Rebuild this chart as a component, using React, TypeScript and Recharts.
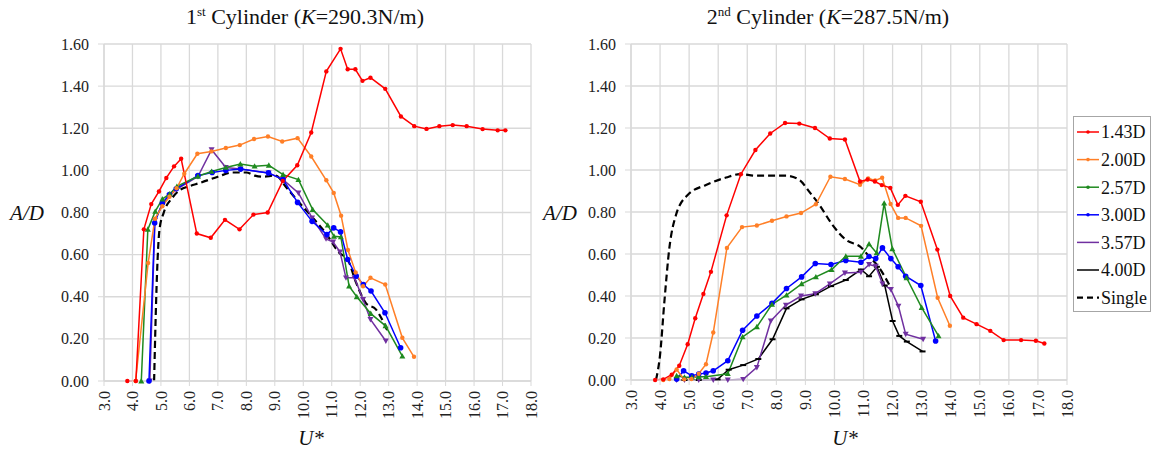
import React from "react";
import { LineChart, Line, XAxis, YAxis, CartesianGrid } from "recharts";

type Pt = [number, number];

// ---- 1st cylinder (K = 290.3 N/m): [U*, A/D] ----
const c1_143: Pt[] = [[3.82,0],[4.12,0],[4.40,0.72],[4.66,0.84],[4.93,0.90],[5.19,0.964],[5.46,1.019],[5.71,1.055],[6.26,0.70],[6.75,0.68],[7.25,0.765],[7.76,0.72],[8.25,0.79],[8.75,0.80],[9.28,0.95],[9.79,1.024],[10.28,1.18],[10.81,1.47],[11.31,1.577],[11.56,1.48],[11.83,1.48],[12.08,1.425],[12.36,1.44],[12.88,1.387],[13.43,1.256],[13.90,1.21],[14.33,1.197],[14.78,1.21],[15.25,1.215],[15.74,1.21],[16.30,1.196],[16.83,1.19],[17.10,1.19]];
const c1_200: Pt[] = [[4.11,0],[4.55,0.56],[4.79,0.77],[5.05,0.83],[5.30,0.875],[5.55,0.915],[5.82,0.984],[6.28,1.079],[6.77,1.09],[7.28,1.106],[7.77,1.12],[8.27,1.149],[8.76,1.161],[9.26,1.137],[9.80,1.153],[10.28,1.066],[10.81,0.953],[11.07,0.893],[11.33,0.785],[11.57,0.622],[11.84,0.515],[12.10,0.45],[12.36,0.49],[12.88,0.458],[13.48,0.205],[13.89,0.115]];
const c1_257: Pt[] = [[4.31,0],[4.54,0.72],[4.80,0.805],[5.05,0.864],[5.31,0.888],[5.56,0.924],[6.30,0.972],[6.78,0.995],[7.28,1.014],[7.79,1.03],[8.29,1.02],[8.79,1.024],[9.29,0.98],[9.83,0.956],[10.33,0.814],[10.86,0.74],[11.08,0.687],[11.32,0.684],[11.61,0.45],[11.88,0.40],[12.37,0.32],[12.89,0.262],[13.48,0.118]];
const c1_300: Pt[] = [[4.58,0],[4.78,0.75],[5.05,0.845],[5.30,0.885],[5.54,0.913],[6.30,0.975],[6.80,0.99],[7.28,1.0],[7.80,1.006],[8.78,0.988],[9.29,0.956],[9.80,0.848],[10.31,0.758],[10.83,0.695],[11.07,0.727],[11.31,0.708],[11.56,0.577],[11.86,0.498],[12.11,0.458],[12.38,0.427],[12.87,0.324],[13.42,0.158]];
const c1_357: Pt[] = [[4.61,0],[4.79,0.763],[5.07,0.845],[5.30,0.88],[5.55,0.91],[6.30,0.971],[6.78,1.098],[7.28,1.014],[7.79,1.006],[8.78,0.988],[9.29,0.956],[9.83,0.893],[10.31,0.774],[10.80,0.675],[11.05,0.66],[11.29,0.613],[11.50,0.49],[11.80,0.49],[12.10,0.387],[12.36,0.292],[12.90,0.19]];
const c1_single: Pt[] = [[4.76,0],[4.86,0.5],[4.95,0.72],[5.1,0.80],[5.4,0.87],[5.65,0.905],[6.0,0.925],[6.36,0.94],[7.0,0.97],[7.53,0.99],[8.0,0.99],[8.3,0.975],[8.58,0.97],[9.02,0.976],[9.4,0.92],[9.87,0.845],[10.34,0.774],[10.8,0.70],[11.27,0.608],[11.56,0.577],[11.86,0.466],[12.2,0.37],[12.55,0.34],[12.96,0.237]];

// ---- 2nd cylinder (K = 287.5 N/m): [U*, A/D] ----
const c2_143: Pt[] = [[3.83,0],[4.11,0.003],[4.40,0.025],[4.66,0.068],[4.95,0.17],[5.21,0.294],[5.49,0.41],[5.75,0.515],[6.29,0.784],[6.78,0.98],[7.28,1.095],[7.79,1.174],[8.30,1.224],[8.79,1.221],[9.33,1.20],[9.84,1.15],[10.36,1.145],[10.88,0.945],[11.14,0.955],[11.39,0.945],[11.63,0.928],[11.92,0.915],[12.18,0.834],[12.44,0.877],[12.97,0.849],[13.54,0.621],[13.98,0.40],[14.43,0.297],[14.89,0.266],[15.36,0.234],[15.82,0.19],[16.42,0.19],[16.93,0.187],[17.22,0.174]];
const c2_200: Pt[] = [[4.11,0],[4.32,0.005],[4.57,0.05],[4.83,0.003],[5.08,0.005],[5.33,0.03],[5.58,0.075],[5.83,0.226],[6.30,0.629],[6.82,0.728],[7.33,0.736],[7.85,0.758],[8.35,0.779],[8.85,0.795],[9.36,0.837],[9.86,0.968],[10.36,0.957],[10.88,0.93],[11.16,0.96],[11.40,0.95],[11.64,0.963],[11.93,0.838],[12.19,0.772],[12.45,0.772],[12.98,0.734],[13.55,0.392],[13.97,0.258]];
const c2_257: Pt[] = [[4.57,0.02],[4.84,0.013],[5.10,0.013],[5.33,0.015],[5.58,0.016],[6.33,0.03],[6.84,0.205],[7.33,0.253],[7.85,0.36],[8.35,0.404],[8.87,0.458],[9.36,0.491],[9.90,0.526],[10.39,0.589],[10.91,0.589],[11.19,0.648],[11.45,0.605],[11.71,0.842],[11.99,0.625],[12.48,0.487],[13.0,0.345],[13.58,0.21]];
const c2_300: Pt[] = [[4.57,0.005],[4.81,0.044],[5.09,0.02],[5.33,0.028],[5.58,0.033],[5.83,0.044],[6.33,0.092],[6.84,0.237],[7.33,0.305],[7.85,0.365],[8.35,0.436],[8.87,0.491],[9.34,0.555],[9.88,0.55],[10.39,0.569],[10.91,0.561],[11.19,0.588],[11.42,0.578],[11.65,0.629],[11.94,0.578],[12.19,0.539],[12.45,0.494],[12.97,0.45],[13.48,0.186]];
const c2_357: Pt[] = [[4.57,0],[4.84,0],[5.33,0],[5.83,0],[6.33,0],[6.86,0.003],[7.33,0.06],[7.81,0.281],[8.33,0.357],[8.85,0.40],[9.34,0.411],[9.84,0.458],[10.36,0.51],[10.91,0.513],[11.19,0.55],[11.42,0.542],[11.65,0.458],[11.94,0.431],[12.20,0.352],[12.45,0.218],[13.05,0.194]];
const c2_400: Pt[] = [[4.84,0],[5.33,0],[5.98,0.003],[6.36,0.049],[6.86,0.071],[7.38,0.10],[7.87,0.194],[8.35,0.341],[8.87,0.384],[9.36,0.408],[9.88,0.447],[10.39,0.476],[10.91,0.526],[11.19,0.494],[11.46,0.539],[11.73,0.45],[12.0,0.281],[12.23,0.21],[12.49,0.183],[13.03,0.136]];
const c2_single: Pt[] = [[3.86,0],[4.0,0.12],[4.15,0.376],[4.32,0.629],[4.55,0.787],[4.95,0.881],[5.58,0.929],[6.27,0.964],[6.75,0.98],[7.30,0.973],[8.33,0.973],[8.79,0.953],[9.13,0.897],[9.48,0.834],[9.93,0.739],[10.39,0.668],[10.91,0.632],[11.19,0.589],[11.54,0.534],[11.88,0.455]];

const xTicks = [3,4,5,6,7,8,9,10,11,12,13,14,15,16,17,18];
const yTicks = [0,0.2,0.4,0.6,0.8,1.0,1.2,1.4,1.6];

const legendLabels = ["1.43D","2.00D","2.57D","3.00D","3.57D","4.00D","Single"];

type Shape = "circle" | "tri" | "tridown" | "dash" | "none";
interface SeriesStyle { color: string; shape: Shape; size: number; dashed?: boolean; }
const styles: Record<string, SeriesStyle> = {
  "1.43D": { color: "#ff0000", shape: "circle", size: 2.2 },
  "2.00D": { color: "#ff7f27", shape: "circle", size: 2.2 },
  "2.57D": { color: "#1f8a1f", shape: "tri", size: 3 },
  "3.00D": { color: "#0000ff", shape: "circle", size: 2.8 },
  "3.57D": { color: "#7030a0", shape: "tridown", size: 3 },
  "4.00D": { color: "#000000", shape: "dash", size: 3 },
  "Single": { color: "#000000", shape: "none", size: 0, dashed: true },
};

const FONT = "Liberation Serif, Tinos, DejaVu Serif, Liberation Sans, Arimo, serif";
const GRID = "#d9d9d9";

const toRows = (pts: Pt[]) => pts.map(([x, y]) => ({ x, y }));

function makeDot(st: SeriesStyle) {
  return (p: any) => {
    const { cx, cy, index } = p;
    const k = `d${index}`;
    if (cx == null || cy == null) return <g key={k} />;
    const s = st.size;
    if (st.shape === "circle") return <circle key={k} cx={cx} cy={cy} r={s} fill={st.color} />;
    if (st.shape === "tri")
      return <polygon key={k} points={`${cx},${cy - s} ${cx - s},${cy + s * 0.8} ${cx + s},${cy + s * 0.8}`} fill={st.color} />;
    if (st.shape === "tridown")
      return <polygon key={k} points={`${cx - s},${cy - s * 0.8} ${cx + s},${cy - s * 0.8} ${cx},${cy + s}`} fill={st.color} />;
    if (st.shape === "dash")
      return <rect key={k} x={cx - s} y={cy - 1} width={2 * s} height={2} fill={st.color} />;
    return <g key={k} />;
  };
}

const XTick = (props: any) => {
  const { x, y, payload } = props;
  return (
    <text x={x} y={y} transform={`rotate(-90 ${x} ${y})`} textAnchor="end" dy="0.35em"
      fontSize={16} fill="#222" style={{ fontFamily: FONT }}>
      {Number(payload.value).toFixed(1)}
    </text>
  );
};

const YTick = (props: any) => {
  const { x, y, payload } = props;
  return (
    <text x={x} y={y} textAnchor="end" dy="0.35em" fontSize={16} fill="#222" style={{ fontFamily: FONT }}>
      {Number(payload.value).toFixed(2)}
    </text>
  );
};

interface SeriesDef { name: string; pts: Pt[]; }

function Panel({ series, width, margin, yAxisWidth }: { series: SeriesDef[]; width: number; margin: any; yAxisWidth: number; }) {
  return (
    <LineChart width={width} height={450} margin={margin}>
      <CartesianGrid stroke={GRID} strokeWidth={1.3} />
      <XAxis type="number" dataKey="x" domain={[3, 18]} ticks={xTicks} interval={0}
        axisLine={{ stroke: GRID, strokeWidth: 1.3 }} tickLine={{ stroke: GRID }} tickSize={5} tickMargin={5}
        height={45} tick={<XTick />} allowDuplicatedCategory={false} />
      <YAxis type="number" dataKey="y" domain={[0, 1.6]} ticks={yTicks} interval={0} width={yAxisWidth}
        axisLine={{ stroke: GRID, strokeWidth: 1.3 }} tickLine={{ stroke: GRID }} tickSize={6} tickMargin={9}
        tick={<YTick />} />
      {series.map((s) => {
        const st = styles[s.name];
        return (
          <Line key={s.name} data={toRows(s.pts)} dataKey="y" name={s.name}
            type={st.dashed ? "monotone" : "linear"}
            stroke={st.color} strokeWidth={st.dashed ? 2.2 : 1.5}
            strokeDasharray={st.dashed ? "7 4" : undefined}
            dot={st.shape === "none" ? false : makeDot(st)}
            activeDot={false} isAnimationActive={false} />
        );
      })}
    </LineChart>
  );
}

const leftSeries: SeriesDef[] = [
  { name: "Single", pts: c1_single },
  { name: "3.57D", pts: c1_357 },
  { name: "3.00D", pts: c1_300 },
  { name: "2.57D", pts: c1_257 },
  { name: "2.00D", pts: c1_200 },
  { name: "1.43D", pts: c1_143 },
];
const rightSeries: SeriesDef[] = [
  { name: "Single", pts: c2_single },
  { name: "4.00D", pts: c2_400 },
  { name: "3.57D", pts: c2_357 },
  { name: "3.00D", pts: c2_300 },
  { name: "2.57D", pts: c2_257 },
  { name: "2.00D", pts: c2_200 },
  { name: "1.43D", pts: c2_143 },
];

const abs = (o: React.CSSProperties): React.CSSProperties => ({ position: "absolute", ...o });

function Legend() {
  return (
    <svg style={abs({ left: 1073, top: 116 })} width={79} height={197}>
      <rect x={0.5} y={0.5} width={77} height={195} fill="#fff" stroke="#a6a6a6" />
      {legendLabels.map((lab, i) => {
        const st = styles[lab];
        const cy = 16 + i * 27.6;
        return (
          <g key={lab}>
            <line x1={4} x2={26} y1={cy} y2={cy} stroke={st.color} strokeWidth={st.dashed ? 2.2 : 1.5}
              strokeDasharray={st.dashed ? "6 4" : undefined} />
            {st.shape !== "none" && st.shape !== "tridown" && st.shape !== "dash" && (
              <circle cx={15} cy={cy} r={1.8} fill={st.color} />
            )}
            <text x={28} y={cy} dy="0.35em" fontSize={18} style={{ fontFamily: FONT }} fill="#111">{lab}</text>
          </g>
        );
      })}
    </svg>
  );
}

export default function App() {
  return (
    <div style={abs({ left: 0, top: 0, width: 1153, height: 450, background: "#fff", fontFamily: FONT, color: "#111" })}>
      <div style={abs({ left: 0, top: 0 })}>
        <Panel series={leftSeries} width={560} yAxisWidth={104} margin={{ top: 44, right: 29, bottom: 24, left: 0 }} />
      </div>
      <div style={abs({ left: 560, top: 0 })}>
        <Panel series={rightSeries} width={540} yAxisWidth={71} margin={{ top: 44, right: 33, bottom: 25, left: 0 }} />
      </div>

      <div style={abs({ left: 105, top: 4, width: 400, textAlign: "center", fontSize: 22, lineHeight: "26px" })}>
        1<sup style={{ fontSize: 13, verticalAlign: 8, lineHeight: 0 }}>st</sup> Cylinder (<i>K</i>=290.3N/m)
      </div>
      <div style={abs({ left: 628, top: 4, width: 400, textAlign: "center", fontSize: 22, lineHeight: "26px" })}>
        2<sup style={{ fontSize: 13, verticalAlign: 8, lineHeight: 0 }}>nd</sup> Cylinder (<i>K</i>=287.5N/m)
      </div>

      <div style={abs({ left: 0, top: 200, width: 54, textAlign: "center", fontSize: 21, fontStyle: "italic", lineHeight: "26px" })}>A/D</div>
      <div style={abs({ left: 533, top: 200, width: 54, textAlign: "center", fontSize: 21, fontStyle: "italic", lineHeight: "26px" })}>A/D</div>
      <div style={abs({ left: 281, top: 428, width: 60, textAlign: "center", fontSize: 21, fontStyle: "italic", lineHeight: "20px" })}>U*</div>
      <div style={abs({ left: 815, top: 428, width: 60, textAlign: "center", fontSize: 21, fontStyle: "italic", lineHeight: "20px" })}>U*</div>

      <Legend />
    </div>
  );
}
